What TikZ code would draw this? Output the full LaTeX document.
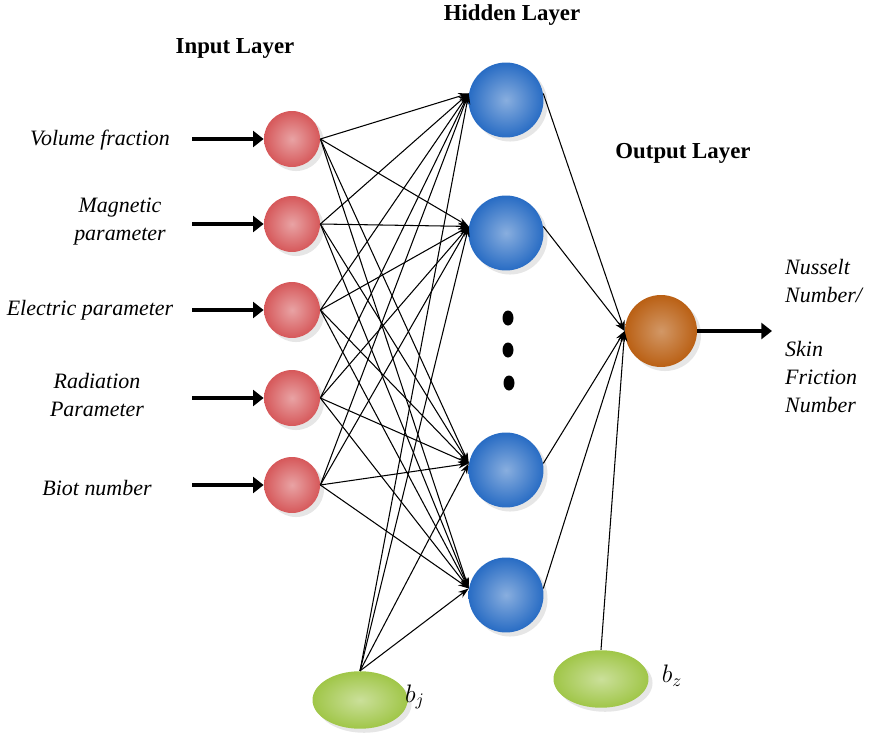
\documentclass[tikz,border=0pt]{standalone}
\usepackage{fontspec}
\setmainfont{Liberation Serif}
\usetikzlibrary{arrows.meta,shapes.geometric,shadows}
\definecolor{inred}{RGB}{214,88,90}
\definecolor{hidblue}{RGB}{40,108,196}
\definecolor{outorange}{RGB}{186,96,20}
\definecolor{biasgreen}{RGB}{160,198,72}

\begin{document}
\begin{tikzpicture}[x=0.02cm,y=-0.02cm,>={Stealth[length=6pt,width=4pt]},
 inode/.style={circle,inner sep=0pt,minimum size=11.2mm,inner color=inred!55!white,outer color=inred,drop shadow={opacity=0.2}},
 hnode/.style={circle,inner sep=0pt,minimum size=15mm,inner color=hidblue!55!white,outer color=hidblue,drop shadow={opacity=0.2}},
 onode/.style={circle,inner sep=0pt,minimum size=14.4mm,inner color=outorange!65!white,outer color=outorange,drop shadow={opacity=0.2}},
 bnode/.style={ellipse,inner sep=0pt,minimum width=19mm,minimum height=11.5mm,inner color=biasgreen!55!white,outer color=biasgreen,drop shadow={opacity=0.2}},
 wire/.style={->,line width=0.6pt},
 feed/.style={line width=2.8pt,-{Triangle[length=6pt,width=9pt]}},
 lab/.style={font=\itshape\fontsize{12.5}{16}\selectfont,align=center},
 blab/.style={font=\fontsize{14}{16}\selectfont},
 ttl/.style={font=\bfseries\fontsize{13}{15}\selectfont}]
\useasboundingbox (0,0) rectangle (877,734);
% layers
\node[inode] (i1) at (292,139) {};
\node[inode] (i2) at (292,224) {};
\node[inode] (i3) at (292,310) {};
\node[inode] (i4) at (292,398) {};
\node[inode] (i5) at (292,485) {};
\node[hnode] (h1) at (506,100) {};
\node[hnode] (h2) at (506,233) {};
\node[hnode] (h3) at (506,470) {};
\node[hnode] (h4) at (506,595) {};
\node[onode] (o) at (661,331) {};
\node[bnode] (bj) at (360,700) {};
\node[bnode] (bz) at (601,679) {};
\node[blab] (bjl) at (415,697) {$b_j$};
\node[blab] (bzl) at (672,676) {$b_z$};
\fill (508,318) ellipse [x radius=1.1mm,y radius=1.5mm];
\fill (508,350) ellipse [x radius=1.1mm,y radius=1.5mm];
\fill (509,383) ellipse [x radius=1.1mm,y radius=1.5mm];
% titles
\node[ttl] (tin) at (235,48) {Input Layer};
\node[ttl] (thid) at (512,15) {Hidden Layer};
\node[ttl] (tout) at (683,153) {Output Layer};
% input labels
\node[lab] (l1) at (100,140) {Volume fraction};
\node[lab] (l2) at (120,222) {Magnetic\\parameter};
\node[lab] (l3) at (90,310) {Electric parameter};
\node[lab] (l4) at (97,395) {Radiation\\Parameter};
\node[lab] (l5) at (97,488) {Biot number};
\node[lab,align=left,anchor=west] (r1) at (779,281) {Nusselt\\Number/};
\node[lab,align=left,anchor=west] (r2) at (779,377) {Skin\\Friction\\Number};
% feeds
\coordinate (s1) at (192,139); \coordinate (s2) at (192,224);
\coordinate (s3) at (192,310); \coordinate (s4) at (192,398);
\coordinate (s5) at (192,485); \coordinate (res) at (772,331);
\foreach \a in {1,...,5} \draw[feed] (s\a) -- (i\a.west);
\draw[feed] (o.east) -- (res);
% weights
\foreach \a in {1,...,5} \foreach \b in {1,...,4} \draw[wire] (i\a.east) -- (h\b.170);
\foreach \b in {1,...,4} \draw[wire] (bj.north) -- (h\b.170);
\foreach \b in {1,...,4} \draw[wire] (h\b.10) -- (o.west);
\draw[wire] (bz.north) -- (o.west);
\end{tikzpicture}
\end{document}
